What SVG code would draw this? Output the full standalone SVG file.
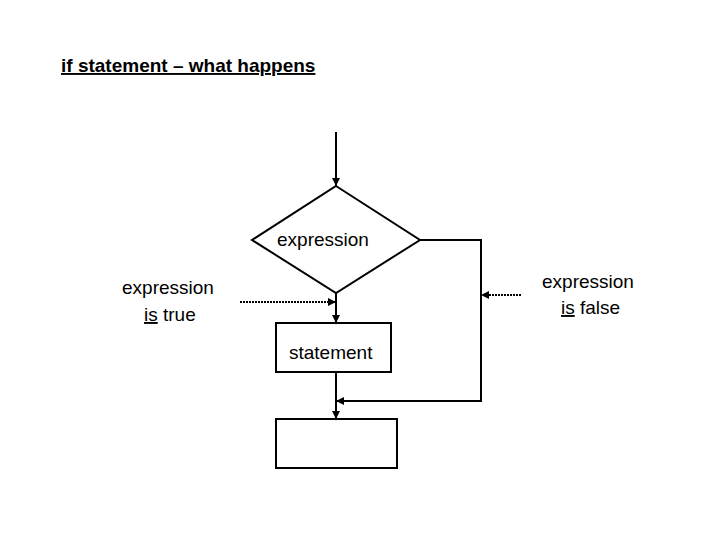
<svg xmlns="http://www.w3.org/2000/svg" width="720" height="540" viewBox="0 0 720 540">
<style>
text{font-family:"Liberation Sans",Arial,sans-serif;font-size:19px;fill:#000}
.s{fill:#fff;stroke:#000;stroke-width:2}
.c{fill:none;stroke:#000;stroke-width:2}
.d{fill:none;stroke:#000;stroke-width:2;stroke-dasharray:2 1}
</style>
<defs><marker id="a" viewBox="0 0 10 10" refX="10" refY="5" markerWidth="4" markerHeight="4" orient="auto"><path d="M0,0L10,5L0,10z" fill="#000"/></marker></defs>
<rect width="720" height="540" fill="#fff"/>
<text x="61" y="72" font-weight="bold" font-size="17" text-decoration="underline">if statement – what happens</text>
<g id="connectors">
<path class="c" d="M336,132V186" marker-end="url(#a)"/>
<path class="c" d="M336,293V323" marker-end="url(#a)"/>
<path class="c" d="M420,240H481V401H336" marker-end="url(#a)"/>
<path class="c" d="M336,372V419" marker-end="url(#a)"/>
<path class="d" d="M240,302H336" marker-end="url(#a)"/>
<path class="d" d="M521,295H481" marker-end="url(#a)"/>
</g>
<g id="decision"><path class="s" d="M336,186L420,240L336,293L252,240Z"/><text x="277" y="246">expression</text></g>
<g id="statement"><rect class="s" x="276" y="323" width="115" height="49"/><text x="289" y="359">statement</text></g>
<g id="next"><rect class="s" x="276" y="419" width="121" height="49"/></g>
<g id="trueLabel"><text x="122" y="294">expression</text><text x="144" y="321"><tspan text-decoration="underline">is</tspan> true</text></g>
<g id="falseLabel"><text x="542" y="288">expression</text><text x="561" y="314"><tspan text-decoration="underline">is</tspan> false</text></g>
</svg>
